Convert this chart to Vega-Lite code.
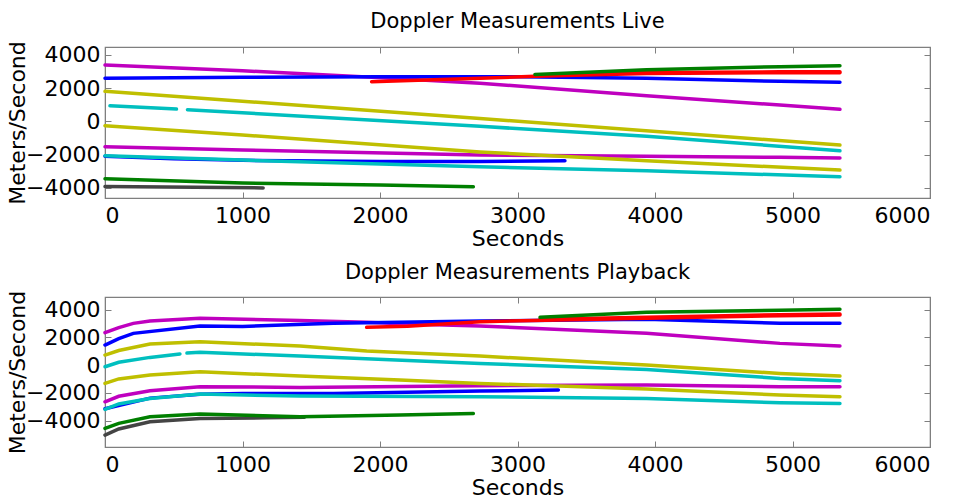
{
  "$schema": "https://vega.github.io/schema/vega-lite/v6.json",
  "background": "white",
  "padding": {"left": 5, "top": 10, "right": 5, "bottom": 5},
  "config": {
    "font": "DejaVu Sans",
    "view": {"stroke": "#7f7f7f", "strokeWidth": 1.2},
    "axis": {"grid": false, "domainColor": "#7f7f7f", "tickColor": "#7f7f7f", "tickSize": -6, "labelColor": "#000", "titleColor": "#000", "labelFont": "DejaVu Sans", "titleFont": "DejaVu Sans", "labelFontSize": 22, "titleFontSize": 22, "titleFontWeight": "normal", "format": "d"},
    "axisX": {"labelPadding": 13, "titlePadding": 2},
    "axisY": {"labelPadding": 11, "titlePadding": -4},
    "title": {"font": "DejaVu Sans", "fontSize": 21, "fontWeight": "normal", "color": "#000", "frame": "group", "anchor": "middle"},
    "concat": {"spacing": 11}
  },
  "datasets": {
    "live": [
      {"seg": "k", "grp": "K", "t": 0, "v": -3930}, {"seg": "k", "grp": "K", "t": 1150, "v": -4010},
      {"seg": "g2", "grp": "G", "t": 0, "v": -3460}, {"seg": "g2", "grp": "G", "t": 1000, "v": -3721}, {"seg": "g2", "grp": "G", "t": 2000, "v": -3842}, {"seg": "g2", "grp": "G", "t": 2679, "v": -3943},
      {"seg": "b2", "grp": "B", "t": 0, "v": -2100}, {"seg": "b2", "grp": "B", "t": 500, "v": -2250}, {"seg": "b2", "grp": "B", "t": 1000, "v": -2350}, {"seg": "b2", "grp": "B", "t": 2000, "v": -2420}, {"seg": "b2", "grp": "B", "t": 2727, "v": -2413}, {"seg": "b2", "grp": "B", "t": 3345, "v": -2376},
      {"seg": "c2", "grp": "C", "t": 0, "v": -2074}, {"seg": "c2", "grp": "C", "t": 1000, "v": -2334}, {"seg": "c2", "grp": "C", "t": 2727, "v": -2738}, {"seg": "c2", "grp": "C", "t": 3939, "v": -2979}, {"seg": "c2", "grp": "C", "t": 5345, "v": -3340},
      {"seg": "m2", "grp": "M", "t": 0, "v": -1530}, {"seg": "m2", "grp": "M", "t": 1000, "v": -1731}, {"seg": "m2", "grp": "M", "t": 2727, "v": -2033}, {"seg": "m2", "grp": "M", "t": 3939, "v": -2111}, {"seg": "m2", "grp": "M", "t": 4909, "v": -2171}, {"seg": "m2", "grp": "M", "t": 5345, "v": -2213},
      {"seg": "y2", "grp": "Y", "t": 0, "v": -265}, {"seg": "y2", "grp": "Y", "t": 1000, "v": -826}, {"seg": "y2", "grp": "Y", "t": 2727, "v": -1850}, {"seg": "y2", "grp": "Y", "t": 3939, "v": -2376}, {"seg": "y2", "grp": "Y", "t": 5345, "v": -2937},
      {"seg": "c1a", "grp": "C", "t": 36, "v": 940}, {"seg": "c1a", "grp": "C", "t": 520, "v": 740},
      {"seg": "c1b", "grp": "C", "t": 600, "v": 700}, {"seg": "c1b", "grp": "C", "t": 2727, "v": -300}, {"seg": "c1b", "grp": "C", "t": 3939, "v": -905}, {"seg": "c1b", "grp": "C", "t": 5345, "v": -1773},
      {"seg": "y1", "grp": "Y", "t": 0, "v": 1810}, {"seg": "y1", "grp": "Y", "t": 2727, "v": 170}, {"seg": "y1", "grp": "Y", "t": 5345, "v": -1430},
      {"seg": "m1", "grp": "M", "t": 0, "v": 3395}, {"seg": "m1", "grp": "M", "t": 1000, "v": 3050}, {"seg": "m1", "grp": "M", "t": 1940, "v": 2650}, {"seg": "m1", "grp": "M", "t": 2727, "v": 2300}, {"seg": "m1", "grp": "M", "t": 3939, "v": 1545}, {"seg": "m1", "grp": "M", "t": 4909, "v": 983}, {"seg": "m1", "grp": "M", "t": 5345, "v": 724},
      {"seg": "b1", "grp": "B", "t": 0, "v": 2593}, {"seg": "b1", "grp": "B", "t": 1000, "v": 2650}, {"seg": "b1", "grp": "B", "t": 2000, "v": 2680}, {"seg": "b1", "grp": "B", "t": 3000, "v": 2680}, {"seg": "b1", "grp": "B", "t": 3939, "v": 2593}, {"seg": "b1", "grp": "B", "t": 4909, "v": 2412}, {"seg": "b1", "grp": "B", "t": 5345, "v": 2352},
      {"seg": "r1", "grp": "R", "t": 1939, "v": 2390}, {"seg": "r1", "grp": "R", "t": 2727, "v": 2590}, {"seg": "r1", "grp": "R", "t": 3127, "v": 2720}, {"seg": "r1", "grp": "R", "t": 3939, "v": 2880}, {"seg": "r1", "grp": "R", "t": 4909, "v": 2930}, {"seg": "r1", "grp": "R", "t": 5345, "v": 2935},
      {"seg": "r2", "grp": "R", "t": 3150, "v": 2790}, {"seg": "r2", "grp": "R", "t": 3939, "v": 2940}, {"seg": "r2", "grp": "R", "t": 4909, "v": 2985}, {"seg": "r2", "grp": "R", "t": 5345, "v": 2990},
      {"seg": "g1", "grp": "G", "t": 3127, "v": 2830}, {"seg": "g1", "grp": "G", "t": 3939, "v": 3112}, {"seg": "g1", "grp": "G", "t": 4909, "v": 3293}, {"seg": "g1", "grp": "G", "t": 5345, "v": 3353}
    ],
    "playback": [
      {"seg": "k", "grp": "K", "t": 0, "v": -5045}, {"seg": "k", "grp": "K", "t": 100, "v": -4600}, {"seg": "k", "grp": "K", "t": 327, "v": -4085}, {"seg": "k", "grp": "K", "t": 691, "v": -3844}, {"seg": "k", "grp": "K", "t": 1176, "v": -3796}, {"seg": "k", "grp": "K", "t": 1450, "v": -3760},
      {"seg": "g2", "grp": "G", "t": 0, "v": -4565}, {"seg": "g2", "grp": "G", "t": 100, "v": -4200}, {"seg": "g2", "grp": "G", "t": 327, "v": -3724}, {"seg": "g2", "grp": "G", "t": 691, "v": -3532}, {"seg": "g2", "grp": "G", "t": 1418, "v": -3724}, {"seg": "g2", "grp": "G", "t": 2145, "v": -3604}, {"seg": "g2", "grp": "G", "t": 2679, "v": -3484},
      {"seg": "b2", "grp": "B", "t": 0, "v": -3150}, {"seg": "b2", "grp": "B", "t": 327, "v": -2380}, {"seg": "b2", "grp": "B", "t": 691, "v": -2100}, {"seg": "b2", "grp": "B", "t": 1000, "v": -2041}, {"seg": "b2", "grp": "B", "t": 1661, "v": -2050}, {"seg": "b2", "grp": "B", "t": 2727, "v": -1874}, {"seg": "b2", "grp": "B", "t": 3297, "v": -1802},
      {"seg": "c2", "grp": "C", "t": 0, "v": -3195}, {"seg": "c2", "grp": "C", "t": 100, "v": -2800}, {"seg": "c2", "grp": "C", "t": 327, "v": -2402}, {"seg": "c2", "grp": "C", "t": 691, "v": -2089}, {"seg": "c2", "grp": "C", "t": 1418, "v": -2234}, {"seg": "c2", "grp": "C", "t": 2727, "v": -2282}, {"seg": "c2", "grp": "C", "t": 3939, "v": -2402}, {"seg": "c2", "grp": "C", "t": 4909, "v": -2714}, {"seg": "c2", "grp": "C", "t": 5345, "v": -2762},
      {"seg": "m2", "grp": "M", "t": 0, "v": -2643}, {"seg": "m2", "grp": "M", "t": 100, "v": -2250}, {"seg": "m2", "grp": "M", "t": 327, "v": -1850}, {"seg": "m2", "grp": "M", "t": 691, "v": -1561}, {"seg": "m2", "grp": "M", "t": 1418, "v": -1609}, {"seg": "m2", "grp": "M", "t": 2727, "v": -1489}, {"seg": "m2", "grp": "M", "t": 3939, "v": -1441}, {"seg": "m2", "grp": "M", "t": 4909, "v": -1561}, {"seg": "m2", "grp": "M", "t": 5345, "v": -1561},
      {"seg": "y2", "grp": "Y", "t": 0, "v": -1321}, {"seg": "y2", "grp": "Y", "t": 100, "v": -1000}, {"seg": "y2", "grp": "Y", "t": 327, "v": -721}, {"seg": "y2", "grp": "Y", "t": 691, "v": -480}, {"seg": "y2", "grp": "Y", "t": 1418, "v": -793}, {"seg": "y2", "grp": "Y", "t": 2145, "v": -1081}, {"seg": "y2", "grp": "Y", "t": 2727, "v": -1321}, {"seg": "y2", "grp": "Y", "t": 3939, "v": -1730}, {"seg": "y2", "grp": "Y", "t": 4909, "v": -2162}, {"seg": "y2", "grp": "Y", "t": 5345, "v": -2282},
      {"seg": "c1a", "grp": "C", "t": 0, "v": -120}, {"seg": "c1a", "grp": "C", "t": 100, "v": 200}, {"seg": "c1a", "grp": "C", "t": 327, "v": 552}, {"seg": "c1a", "grp": "C", "t": 545, "v": 800},
      {"seg": "c1b", "grp": "C", "t": 596, "v": 860}, {"seg": "c1b", "grp": "C", "t": 691, "v": 913}, {"seg": "c1b", "grp": "C", "t": 1418, "v": 648}, {"seg": "c1b", "grp": "C", "t": 2727, "v": 120}, {"seg": "c1b", "grp": "C", "t": 3939, "v": -312}, {"seg": "c1b", "grp": "C", "t": 4909, "v": -961}, {"seg": "c1b", "grp": "C", "t": 5345, "v": -1129},
      {"seg": "y1", "grp": "Y", "t": 0, "v": 720}, {"seg": "y1", "grp": "Y", "t": 100, "v": 1050}, {"seg": "y1", "grp": "Y", "t": 327, "v": 1513}, {"seg": "y1", "grp": "Y", "t": 691, "v": 1681}, {"seg": "y1", "grp": "Y", "t": 1418, "v": 1369}, {"seg": "y1", "grp": "Y", "t": 1903, "v": 1009}, {"seg": "y1", "grp": "Y", "t": 2727, "v": 648}, {"seg": "y1", "grp": "Y", "t": 3939, "v": 0}, {"seg": "y1", "grp": "Y", "t": 4909, "v": -600}, {"seg": "y1", "grp": "Y", "t": 5345, "v": -793},
      {"seg": "m1", "grp": "M", "t": 0, "v": 2330}, {"seg": "m1", "grp": "M", "t": 100, "v": 2700}, {"seg": "m1", "grp": "M", "t": 206, "v": 3003}, {"seg": "m1", "grp": "M", "t": 327, "v": 3171}, {"seg": "m1", "grp": "M", "t": 691, "v": 3363}, {"seg": "m1", "grp": "M", "t": 1418, "v": 3200}, {"seg": "m1", "grp": "M", "t": 1903, "v": 3075}, {"seg": "m1", "grp": "M", "t": 2200, "v": 2950}, {"seg": "m1", "grp": "M", "t": 2727, "v": 2811}, {"seg": "m1", "grp": "M", "t": 3939, "v": 2282}, {"seg": "m1", "grp": "M", "t": 4909, "v": 1561}, {"seg": "m1", "grp": "M", "t": 5345, "v": 1369},
      {"seg": "b1", "grp": "B", "t": 0, "v": 1441}, {"seg": "b1", "grp": "B", "t": 100, "v": 1900}, {"seg": "b1", "grp": "B", "t": 206, "v": 2282}, {"seg": "b1", "grp": "B", "t": 691, "v": 2811}, {"seg": "b1", "grp": "B", "t": 1000, "v": 2780}, {"seg": "b1", "grp": "B", "t": 1661, "v": 3003}, {"seg": "b1", "grp": "B", "t": 2727, "v": 3171}, {"seg": "b1", "grp": "B", "t": 3939, "v": 3291}, {"seg": "b1", "grp": "B", "t": 4909, "v": 3003}, {"seg": "b1", "grp": "B", "t": 5345, "v": 3003},
      {"seg": "r1", "grp": "R", "t": 1903, "v": 2714}, {"seg": "r1", "grp": "R", "t": 2200, "v": 2800}, {"seg": "r1", "grp": "R", "t": 2727, "v": 3123}, {"seg": "r1", "grp": "R", "t": 3939, "v": 3363}, {"seg": "r1", "grp": "R", "t": 4909, "v": 3550}, {"seg": "r1", "grp": "R", "t": 5345, "v": 3603},
      {"seg": "r2", "grp": "R", "t": 3164, "v": 3300}, {"seg": "r2", "grp": "R", "t": 3939, "v": 3440}, {"seg": "r2", "grp": "R", "t": 4909, "v": 3620}, {"seg": "r2", "grp": "R", "t": 5345, "v": 3680},
      {"seg": "g1", "grp": "G", "t": 3164, "v": 3435}, {"seg": "g1", "grp": "G", "t": 3939, "v": 3796}, {"seg": "g1", "grp": "G", "t": 4909, "v": 3950}, {"seg": "g1", "grp": "G", "t": 5345, "v": 4012}
    ]
  },
  "vconcat": [
    {
      "width": 825, "height": 151,
      "title": {"text": "Doppler Measurements Live", "offset": 9},
      "data": {"name": "live"},
      "layer": [
        {
          "mark": {"type": "line", "strokeWidth": 3.5, "strokeCap": "round"},
          "encoding": {
            "x": {"field": "t", "type": "quantitative", "scale": {"domain": [0, 6000], "nice": false, "zero": false}, "axis": {"title": "Seconds", "values": [0, 1000, 2000, 3000, 4000, 5000, 6000]}},
            "y": {"field": "v", "type": "quantitative", "scale": {"domain": [-4620, 4480], "nice": false, "zero": false}, "axis": {"title": "Meters/Second", "values": [-4000, -2000, 0, 2000, 4000]}},
            "color": {"field": "grp", "type": "nominal", "legend": null, "scale": {"domain": ["K", "G", "B", "C", "M", "Y", "R"], "range": ["#444444", "#007f00", "#0000ff", "#00bfbf", "#bf00bf", "#bfbf00", "#ff0000"]}},
            "detail": {"field": "seg", "type": "nominal"}
          }
        },
        {
          "mark": {"type": "line", "opacity": 0},
          "encoding": {
            "x": {"field": "t", "type": "quantitative", "axis": {"orient": "top", "labels": false, "title": null, "values": [0, 1000, 2000, 3000, 4000, 5000, 6000]}},
            "y": {"field": "v", "type": "quantitative", "axis": {"orient": "right", "labels": false, "title": null, "values": [-4000, -2000, 0, 2000, 4000]}},
            "detail": {"field": "seg", "type": "nominal"}
          }
        }
      ],
      "resolve": {"axis": {"x": "independent", "y": "independent"}}
    },
    {
      "width": 825, "height": 150,
      "title": {"text": "Doppler Measurements Playback", "offset": 7.5},
      "data": {"name": "playback"},
      "layer": [
        {
          "mark": {"type": "line", "strokeWidth": 3.5, "strokeCap": "round"},
          "encoding": {
            "x": {"field": "t", "type": "quantitative", "scale": {"domain": [0, 6000], "nice": false, "zero": false}, "axis": {"title": "Seconds", "values": [0, 1000, 2000, 3000, 4000, 5000, 6000]}},
            "y": {"field": "v", "type": "quantitative", "scale": {"domain": [-5900, 4900], "nice": false, "zero": false}, "axis": {"title": "Meters/Second", "values": [-4000, -2000, 0, 2000, 4000]}},
            "color": {"field": "grp", "type": "nominal", "legend": null, "scale": {"domain": ["K", "G", "B", "C", "M", "Y", "R"], "range": ["#444444", "#007f00", "#0000ff", "#00bfbf", "#bf00bf", "#bfbf00", "#ff0000"]}},
            "detail": {"field": "seg", "type": "nominal"}
          }
        },
        {
          "mark": {"type": "line", "opacity": 0},
          "encoding": {
            "x": {"field": "t", "type": "quantitative", "axis": {"orient": "top", "labels": false, "title": null, "values": [0, 1000, 2000, 3000, 4000, 5000, 6000]}},
            "y": {"field": "v", "type": "quantitative", "axis": {"orient": "right", "labels": false, "title": null, "values": [-4000, -2000, 0, 2000, 4000]}},
            "detail": {"field": "seg", "type": "nominal"}
          }
        }
      ],
      "resolve": {"axis": {"x": "independent", "y": "independent"}}
    }
  ]
}
